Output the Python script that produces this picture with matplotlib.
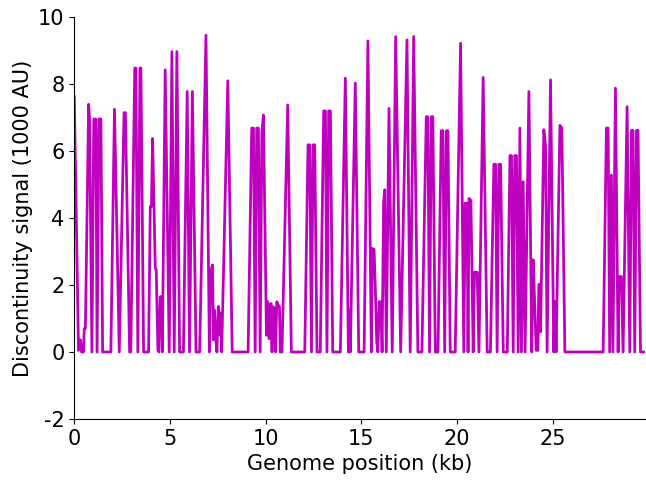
import numpy as np
import matplotlib
matplotlib.use('Agg')
import matplotlib.pyplot as plt

# genome position (kb) and discontinuity signal (1000 AU)
pos_kb = [
    0.00, 0.22, 0.27, 0.33, 0.38, 0.48, 0.52, 0.58, 0.75, 0.80,
    0.92, 1.02, 1.13, 1.19, 1.29, 1.39, 1.48, 1.91, 2.10, 2.35,
    2.60, 2.67, 2.89, 2.95, 3.16, 3.22, 3.32, 3.43, 3.48, 3.62,
    3.88, 3.97, 4.03, 4.09, 4.23, 4.28, 4.37, 4.42, 4.49, 4.56,
    4.60, 4.75, 4.96, 5.10, 5.22, 5.36, 5.50, 5.70, 5.90, 6.02,
    6.17, 6.36, 6.55, 6.88, 7.06, 7.12, 7.22, 7.27, 7.32, 7.39,
    7.45, 7.52, 7.58, 7.62, 7.66, 7.70, 8.02, 8.25, 9.08, 9.27,
    9.36, 9.45, 9.53, 9.62, 9.71, 9.80, 9.88, 10.04, 10.10, 10.17,
    10.23, 10.27, 10.33, 10.38, 10.45, 10.51, 10.58, 10.65, 10.72, 10.76,
    10.85, 11.15, 11.34, 12.04, 12.21, 12.30, 12.39, 12.47, 12.56, 12.68,
    12.85, 13.03, 13.12, 13.20, 13.29, 13.38, 13.50, 13.90, 14.16, 14.32,
    14.36, 14.42, 14.68, 14.86, 15.14, 15.34, 15.52, 15.57, 15.66, 15.73,
    15.80, 15.86, 15.93, 16.02, 16.08, 16.16, 16.22, 16.30, 16.44, 16.61,
    16.79, 17.05, 17.38, 17.55, 17.73, 17.95, 18.16, 18.39, 18.47, 18.56,
    18.65, 18.73, 18.86, 19.00, 19.17, 19.26, 19.35, 19.44, 19.52, 19.64,
    19.90, 20.18, 20.35, 20.42, 20.52, 20.57, 20.62, 20.72, 20.84, 20.91,
    21.05, 21.14, 21.36, 21.57, 21.74, 21.92, 22.01, 22.09, 22.18, 22.27,
    22.41, 22.62, 22.76, 22.84, 22.93, 23.01, 23.10, 23.19, 23.28, 23.36,
    23.45, 23.55, 23.75, 23.90, 23.97, 24.06, 24.13, 24.22, 24.27, 24.33,
    24.36, 24.53, 24.62, 24.70, 24.88, 25.05, 25.12, 25.17, 25.37, 25.47,
    25.63, 27.63, 27.80, 27.89, 27.97, 28.06, 28.14, 28.27, 28.41, 28.46,
    28.58, 28.67, 28.88, 29.02, 29.11, 29.19, 29.28, 29.37, 29.45, 29.58,
    29.80,
]
signal = [
    7.62, 0.05, 0.36, 0.36, 0.00, 0.00, 0.70, 0.70, 7.39, 6.93,
    0.00, 6.95, 6.95, 0.00, 6.95, 6.95, 0.00, 0.00, 7.24, 0.00,
    7.14, 7.14, 0.00, 0.00, 8.47, 8.47, 0.00, 8.47, 8.47, 0.00,
    0.00, 4.34, 4.34, 6.37, 2.51, 2.45, 0.06, 0.00, 1.65, 1.65,
    0.00, 8.42, 0.00, 8.96, 0.00, 8.96, 0.00, 0.00, 7.77, 0.00,
    7.77, 0.00, 0.00, 9.45, 0.00, 2.40, 2.60, 0.36, 1.25, 0.45,
    0.00, 1.36, 1.16, 0.50, 1.15, 0.00, 8.09, 0.00, 0.00, 6.68,
    6.68, 0.00, 6.68, 6.68, 0.00, 6.53, 7.07, 0.50, 1.50, 0.40,
    0.45, 1.45, 0.00, 1.35, 1.30, 0.00, 1.50, 1.40, 1.35, 0.00,
    0.00, 7.37, 0.00, 0.00, 6.18, 6.18, 0.00, 6.18, 6.18, 0.00,
    0.00, 7.19, 7.19, 0.00, 7.19, 7.19, 0.00, 0.00, 8.17, 0.00,
    1.25, 0.00, 8.02, 0.00, 0.00, 9.28, 0.00, 3.09, 3.06, 1.85,
    0.30, 0.00, 1.50, 1.50, 0.00, 4.49, 4.84, 0.00, 7.27, 0.00,
    9.41, 0.00, 9.31, 0.00, 9.41, 0.00, 0.00, 7.02, 7.02, 0.00,
    7.02, 7.02, 0.00, 0.00, 6.60, 6.60, 0.00, 6.60, 6.60, 0.00,
    0.00, 9.21, 0.00, 4.44, 4.44, 0.00, 4.58, 4.52, 0.00, 2.38,
    2.38, 0.00, 8.19, 0.00, 0.00, 5.60, 5.60, 0.00, 5.60, 5.60,
    0.00, 0.00, 5.86, 5.86, 0.00, 5.86, 5.86, 0.00, 6.68, 0.00,
    5.08, 0.00, 7.77, 0.00, 2.75, 1.35, 0.05, 0.05, 2.02, 2.02,
    0.60, 6.63, 6.13, 0.00, 8.12, 0.00, 1.50, 0.00, 6.76, 6.68,
    0.00, 0.00, 6.68, 6.68, 0.00, 5.28, 0.00, 7.87, 0.00, 2.25,
    2.25, 0.00, 7.32, 0.00, 6.61, 6.61, 0.00, 6.61, 6.61, 0.00,
    0.00,
]

plt.rcParams['font.family'] = ['DejaVu Sans']
plt.rcParams['axes.unicode_minus'] = False

fig, ax = plt.subplots(figsize=(6.46, 4.8), dpi=100)
fig.subplots_adjust(left=0.115, right=0.998, top=0.965, bottom=0.127)

ax.plot(pos_kb, signal, color='m', linewidth=2)

ax.set_xlim(0, max(pos_kb))
ax.set_ylim(-2, 10)
ax.set_xticks([0, 5, 10, 15, 20, 25])
ax.set_yticks([-2, 0, 2, 4, 6, 8, 10])
ax.tick_params(labelsize=15)
ax.set_xlabel('Genome position (kb)', fontsize=15)
ax.set_ylabel('Discontinuity signal (1000 AU)', fontsize=15)

ax.spines['top'].set_visible(False)
ax.spines['right'].set_visible(False)

plt.savefig('out.png')
